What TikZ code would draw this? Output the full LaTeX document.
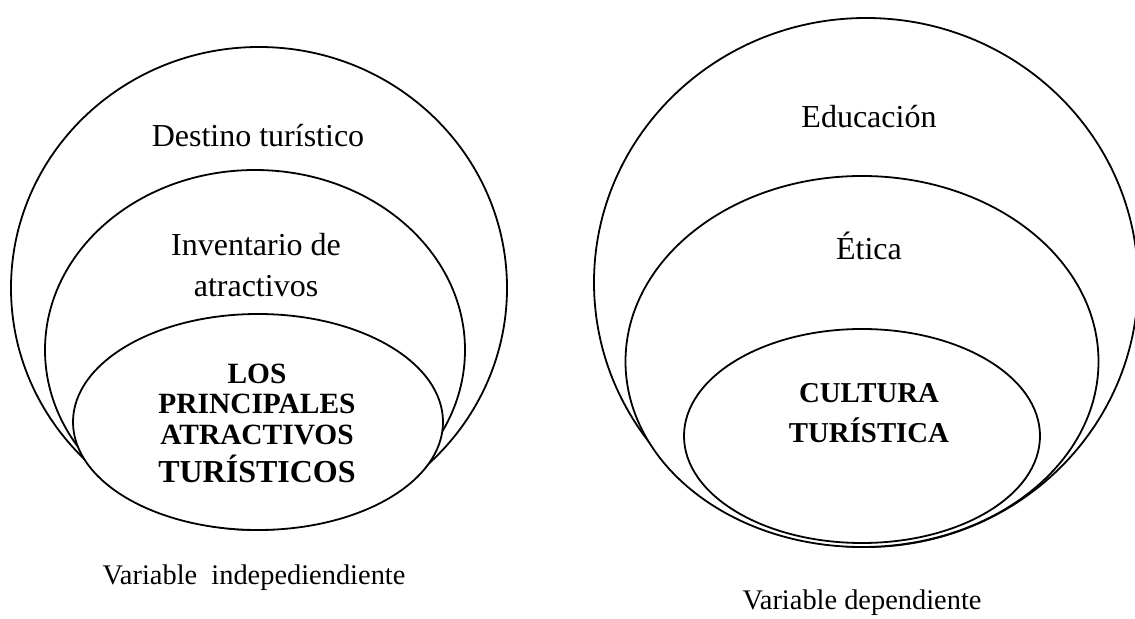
\documentclass[tikz,border=0pt]{standalone}
\usepackage{fontspec}
\setmainfont{Liberation Serif}
\begin{document}
\begin{tikzpicture}[x=0.5pt,y=-0.5pt,
  ring/.style={draw=black, line width=0.9pt, fill=white},
  lab/.style={anchor=base, inner sep=0pt, font=\fontsize{16}{19}\selectfont},
  blab/.style={anchor=base, inner sep=0pt, font=\fontsize{14.7}{17}\selectfont\bfseries},
  bigb/.style={anchor=base, inner sep=0pt, font=\fontsize{16}{19}\selectfont\bfseries},
  caption/.style={anchor=base, inner sep=0pt, font=\fontsize{14.2}{17}\selectfont}]
\useasboundingbox (0,0) rectangle (1135,619);
% left set
\draw[ring] (259,288) ellipse [x radius=124pt, y radius=120.5pt];
\draw[ring] (255,350) ellipse [x radius=105pt, y radius=90pt];
\draw[ring] (258,422) ellipse [x radius=92.5pt, y radius=54pt];
\node[lab]  (dest) at (258,147) {Destino turístico};
\node[lab]  (inv1) at (256,256) {Inventario de};
\node[lab]  (inv2) at (256,297) {atractivos};
\node[blab] (lp1) at (257,384) {LOS};
\node[blab] (lp2) at (257,414) {PRINCIPALES};
\node[blab] (lp3) at (257,445) {ATRACTIVOS};
\node[bigb] (lp4) at (257,483) {TURÍSTICOS};
\node[caption]  (vind) at (254,585) {Variable\ \ indepediendiente};
% right set
\draw[ring] (866,282.5) ellipse [x radius=136pt, y radius=132.25pt];
\draw[ring] (862,361.5) ellipse [x radius=118.25pt, y radius=92.75pt];
\draw[ring] (862,436) ellipse [x radius=89pt, y radius=53.5pt];
\node[lab]  (edu) at (869,128) {Educación};
\node[lab]  (eti) at (869,260) {Ética};
\node[bigb, font=\fontsize{14.4}{17}\selectfont\bfseries] (ct1) at (869,403) {CULTURA};
\node[bigb, font=\fontsize{14.4}{17}\selectfont\bfseries] (ct2) at (869,443) {TURÍSTICA};
\node[caption]  (vdep) at (862,610) {Variable dependiente};
\end{tikzpicture}
\end{document}
